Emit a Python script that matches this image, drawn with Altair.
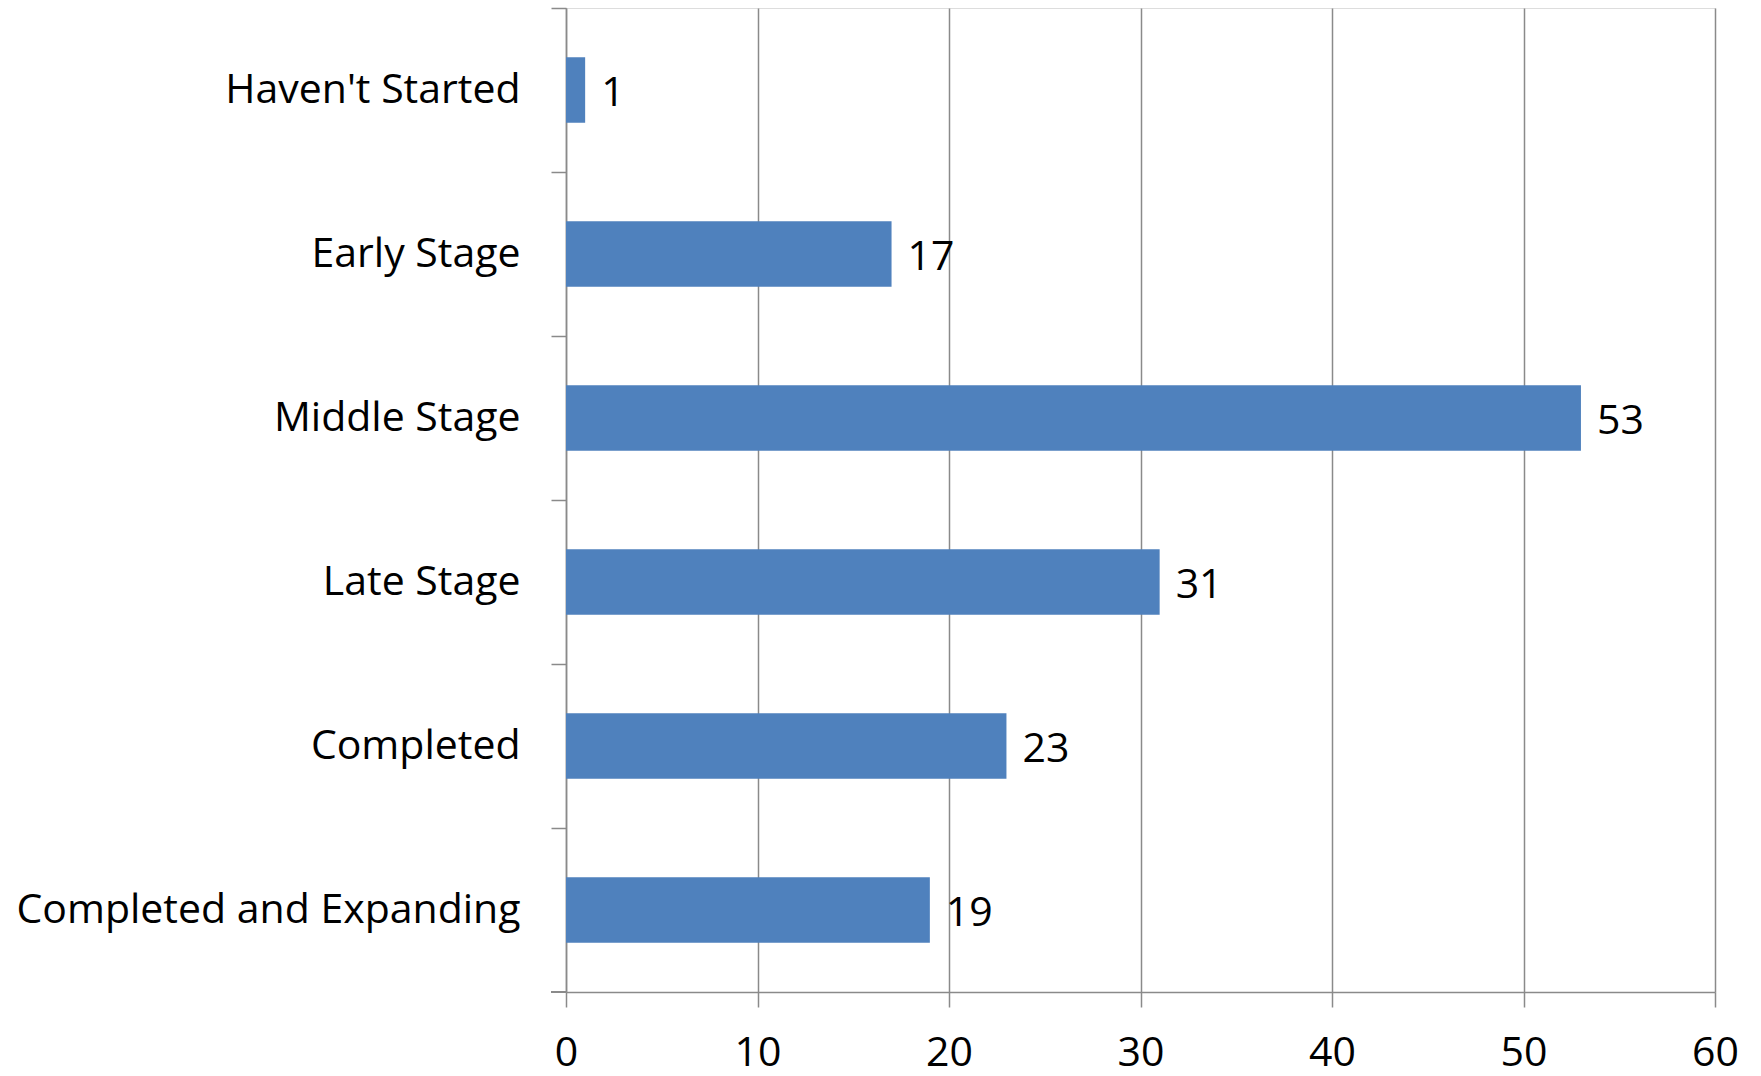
import altair as alt
import pandas as pd

categories = ["Haven't Started", "Early Stage", "Middle Stage", "Late Stage",
              "Completed", "Completed and Expanding"]
values = [1, 17, 53, 31, 23, 19]
x_ticks = [0, 10, 20, 30, 40, 50, 60]

df = pd.DataFrame({"stage": categories, "count": values})

FONT = "Open Sans"
GRAY = "#8a8a8a"
STEP = 984 / len(categories)

y_enc = alt.Y("stage:N", sort=categories, title=None,
              scale=alt.Scale(paddingInner=0.6, paddingOuter=0.3),
              axis=alt.Axis(tickOffset=-STEP / 2, labelOffset=STEP / 2,
                            labelFont=FONT, labelFontSize=41,
                            labelColor="black", labelPadding=31, tickSize=15,
                            tickColor=GRAY, tickWidth=1.5, domainColor=GRAY,
                            domainWidth=1.5, grid=False, labelLimit=1000))
x_enc = alt.X("count:Q", title=None,
              scale=alt.Scale(domain=[0, 60], nice=False),
              axis=alt.Axis(values=x_ticks, labelFont=FONT, labelFontSize=41,
                            labelColor="black", labelPadding=26, tickSize=15,
                            tickColor=GRAY, tickWidth=1.5, domainColor=GRAY,
                            domainWidth=1.5, grid=True, gridColor=GRAY,
                            gridWidth=1.5, labelFlush=False))

bars = alt.Chart(df).mark_bar(color="#4F81BD").encode(x=x_enc, y=y_enc)
labels = alt.Chart(df).mark_text(align="left", baseline="middle", dx=16, dy=4,
                                 font=FONT, fontSize=41, color="black").encode(
    x="count:Q", y=alt.Y("stage:N", sort=categories), text="count:Q")
# closing tick of the category axis at its bottom end
end_tick = alt.Chart(df).mark_rule(color=GRAY, strokeWidth=1.5).encode(
    x=alt.value(-15), x2=alt.value(0), y=alt.value(984))

chart = (bars + labels + end_tick).properties(
    width=1149, height=984,
    autosize=alt.AutoSizeParams(type="none"),
    padding={"left": 566, "top": 8, "right": 46, "bottom": 84},
).configure_view(stroke="transparent", strokeWidth=0).configure(background="white")

chart.save("out.html", embed_options={"renderer": "svg", "actions": False})
